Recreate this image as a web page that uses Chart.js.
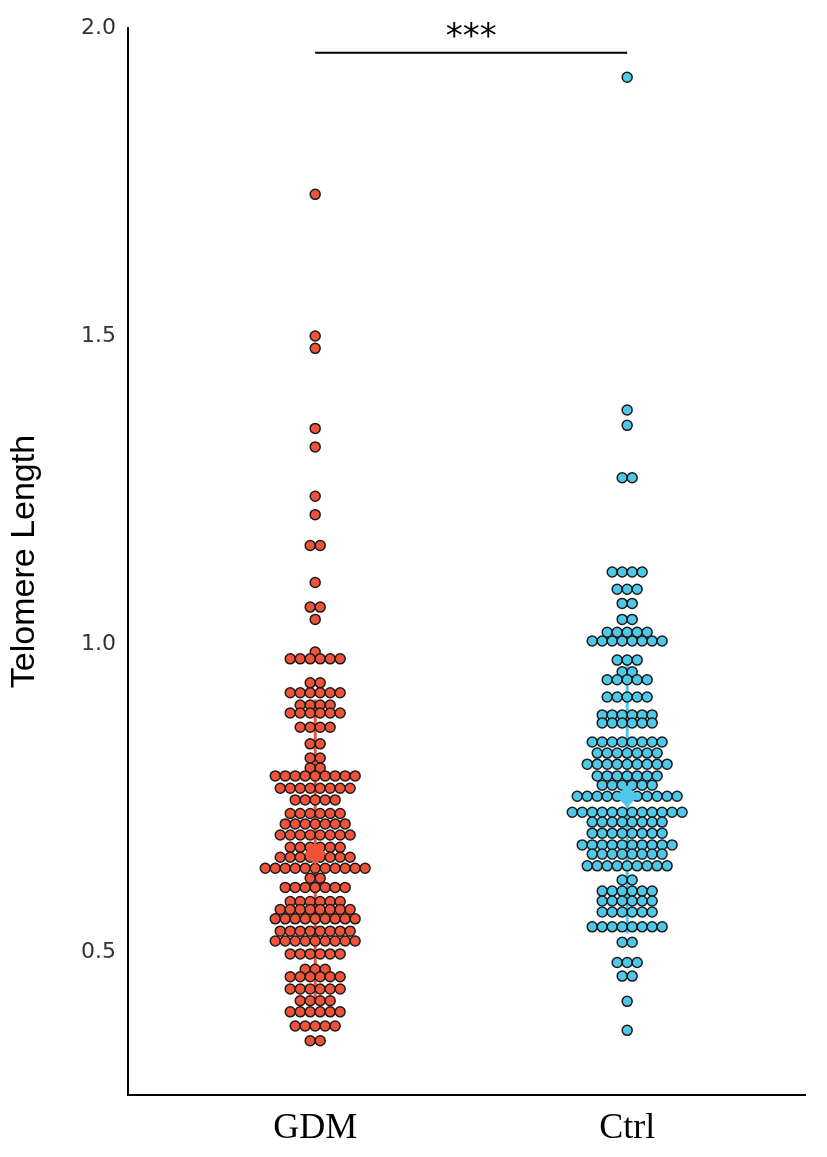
<!DOCTYPE html>
<html><head><meta charset="utf-8">
<script src="https://cdn.jsdelivr.net/npm/chart.js@4/dist/chart.umd.min.js"></script>
<style>html,body{margin:0;padding:0;background:#fff}</style>
</head><body>
<canvas id="c" width="827" height="1157"></canvas>
<script>
const categories = ["GDM", "Ctrl"];
// rows: [telomere length, number of dots at that level]
const gdmRows = [[1.73,1],[1.50,1],[1.48,1],[1.35,1],[1.32,1],[1.24,1],[1.21,1],[1.16,2],[1.10,1],[1.06,2],[1.04,1],
 [0.987,1],[0.976,6],[0.937,2],[0.921,6],[0.901,4],[0.888,6],[0.865,4],[0.838,2],[0.815,2],[0.799,2],[0.786,9],
 [0.766,8],[0.747,5],[0.725,6],[0.708,7],[0.690,8],[0.670,6],[0.654,8],[0.636,11],[0.620,2],[0.605,7],[0.582,6],
 [0.569,8],[0.554,9],[0.534,8],[0.518,9],[0.497,6],[0.472,3],[0.460,6],[0.440,6],[0.421,4],[0.403,6],[0.380,5],[0.356,2]];
const ctrlRows = [[1.92,1],[1.38,1],[1.355,1],[1.27,2],[1.117,4],[1.089,3],[1.066,2],[1.040,2],[1.019,5],[1.005,8],
 [0.974,3],[0.955,2],[0.942,5],[0.914,5],[0.885,6],[0.872,6],[0.841,8],[0.823,7],[0.805,9],[0.786,7],[0.771,6],
 [0.753,11],[0.727,12],[0.711,8],[0.693,8],[0.674,10],[0.659,8],[0.640,9],[0.617,2],[0.599,6],[0.583,6],[0.565,6],
 [0.541,8],[0.516,2],[0.483,3],[0.461,2],[0.420,1],[0.373,1]];
const means = [0.66, 0.753];
const barLow = [0.42, 0.53];
const barHigh = [0.91, 0.97];
const yTicks = [0.5, 1.0, 1.5, 2.0];
const sigLabel = "***";
const sigY = 1.96;

const step = 0.032;
function swarm(rows, cx){
  const pts=[];
  rows.forEach(([v,n])=>{for(let i=0;i<n;i++)pts.push({x:cx+(i-(n-1)/2)*step,y:v});});
  return pts;
}
const colors=["#F0533A","#4DC8E8"];
const datasets=[];
[gdmRows,ctrlRows].forEach((rows,k)=>{
  datasets.push({type:'line',data:[{x:k+1,y:barLow[k]},{x:k+1,y:barHigh[k]}],borderColor:colors[k],borderWidth:3,pointRadius:0,order:3});
  datasets.push({data:swarm(rows,k+1),backgroundColor:colors[k],borderColor:'#1a1a1a',borderWidth:1.5,pointRadius:5,order:2});
  datasets.push({data:[{x:k+1,y:means[k]}],backgroundColor:colors[k],borderWidth:0,pointStyle:'rectRot',pointRadius:11,order:1});
});
const sig={id:'sig',afterDraw(ch){
  const c=ch.ctx,x=ch.scales.x,y=ch.scales.y;
  const yy=y.getPixelForValue(sigY);
  c.save();c.strokeStyle='#000';c.lineWidth=2;c.beginPath();
  c.moveTo(x.getPixelForValue(1),yy);c.lineTo(x.getPixelForValue(2),yy);c.stroke();
  c.fillStyle='#000';c.font='34px "DejaVu Sans"';c.textAlign='center';c.textBaseline='alphabetic';
  c.fillText(sigLabel,(x.getPixelForValue(1)+x.getPixelForValue(2))/2,yy-6);
  c.restore();
}};
new Chart(document.getElementById('c'),{
  type:'scatter',
  data:{datasets},
  options:{responsive:false,animation:false,
    layout:{padding:{top:28,right:22,left:0,bottom:0}},
    plugins:{legend:{display:false},tooltip:{enabled:false}},
    scales:{
      x:{type:'linear',min:0.4,max:2.57,afterBuildTicks(s){s.ticks=[{value:1},{value:2}];},
        afterFit(s){s.height=62;},
        grid:{display:false,drawTicks:true,tickLength:8,color:'#000'},border:{color:'#000',width:2},
        ticks:{color:'#000',font:{family:'Liberation Serif',size:36},padding:4,callback:v=>categories[v-1]}},
      y:{min:0.268,max:2.0,afterBuildTicks(s){s.ticks=yTicks.map(v=>({value:v}));},
        afterFit(s){s.width=128;},
        grid:{display:false,drawTicks:true,tickLength:8,color:'#000'},border:{color:'#000',width:2},
        title:{display:true,text:'Telomere Length',color:'#000',font:{family:'Liberation Sans',size:34},padding:{bottom:8}},
        ticks:{color:'#333',font:{family:'DejaVu Sans',size:22},padding:4,callback:v=>v.toFixed(1)}}
    }},
  plugins:[sig]
});
</script>
</body></html>
